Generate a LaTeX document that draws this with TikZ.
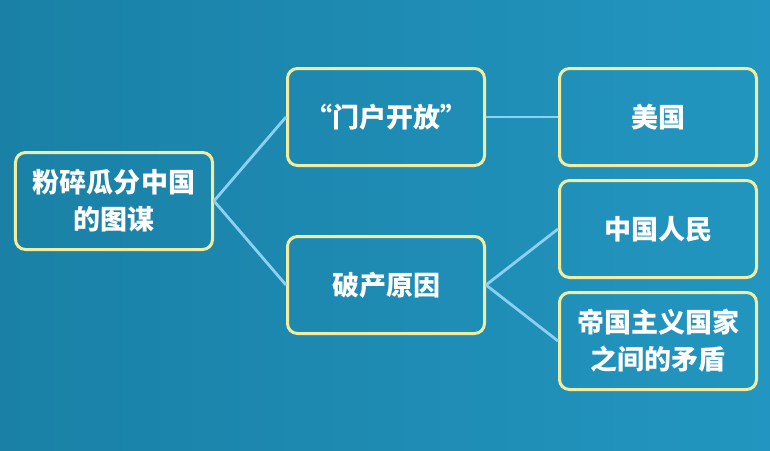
\documentclass[tikz,border=0pt]{standalone}
\usepackage{fontspec}
\setmainfont{Noto Sans CJK SC}
\usepackage{xcolor}
\usepackage{tikz}

\definecolor{boarddark}{RGB}{26,128,166}
\definecolor{boardlight}{RGB}{34,150,192}
\definecolor{frameyellow}{RGB}{240,236,160}
\definecolor{linkblue}{RGB}{140,208,244}

\begin{document}
\begin{tikzpicture}[
    every node/.style={draw=frameyellow, line width=1.5pt, rounded corners=5pt, minimum width=98.5pt, minimum height=48.5pt, align=center, text=white, font=\fontsize{13.5pt}{18.5pt}\selectfont\bfseries},
    grow'=right,
    level 1/.style={sibling distance=84pt},
    level 2/.style={sibling distance=56pt},
    edge from parent/.style={draw=linkblue, line width=1.4pt},
    parent anchor=east, child anchor=west,
    level distance=136pt
]
\shade[left color=boarddark, right color=boardlight] (-57pt,100.5pt) rectangle (328pt,-124.5pt);
\node (plot) {粉碎瓜分中国\\的图谋}
    child {node (open) {“门户开放”}
        child {node (usa) {美国}}
    }
    child {node (fail) {破产原因}
        child {node (people) {中国人民}}
        child {node (rivals) {帝国主义国家\\之间的矛盾}}
    };
\end{tikzpicture}
\end{document}
